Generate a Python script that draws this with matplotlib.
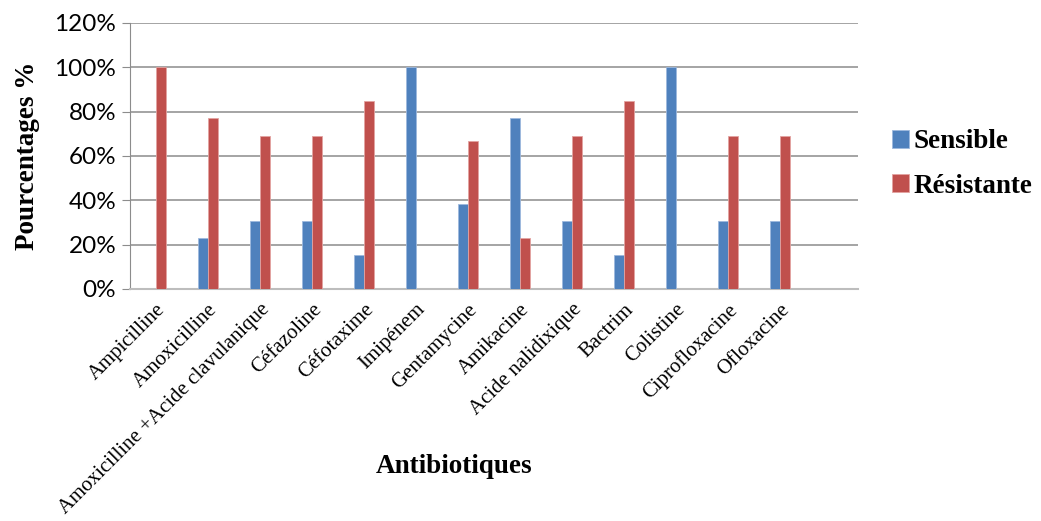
import numpy as np
import matplotlib.pyplot as plt
from matplotlib.ticker import PercentFormatter

antibiotiques = ["Ampicilline", "Amoxicilline", "Amoxicilline +Acide clavulanique",
                 "Céfazoline", "Céfotaxime", "Imipénem", "Gentamycine", "Amikacine",
                 "Acide nalidixique", "Bactrim", "Colistine", "Ciprofloxacine",
                 "Ofloxacine", ""]
sensible = [0, 23.08, 30.77, 30.77, 15.38, 100, 38.46, 76.92, 30.77, 15.38, 100, 30.77, 30.77, 0]
resistante = [100, 76.92, 69.23, 69.23, 84.62, 0, 66.67, 23.08, 69.23, 84.62, 0, 69.23, 69.23, 0]

serif = "Liberation Serif"
sans = "Lato"

fig = plt.figure(figsize=(10.41, 5.21), dpi=100)
ax = fig.add_axes([0.1249, 0.4453, 0.6993, 0.5106])

x = np.arange(len(antibiotiques))
w = 0.2
ax.bar(x - w / 2, sensible, w, color="#4F81BD", edgecolor="#9DB9DE", linewidth=0.6,
       label="Sensible", zorder=3)
ax.bar(x + w / 2, resistante, w, color="#C0504D", edgecolor="#E3A3A1", linewidth=0.6,
       label="Résistante", zorder=3)

ax.set_xlim(-0.5, len(antibiotiques) - 0.5)
ax.set_ylim(0, 120)
ax.set_yticks(np.arange(0, 121, 20))
ax.yaxis.set_major_formatter(PercentFormatter(decimals=0))
ax.grid(axis="y", color="#8C8C8C", linewidth=1.1, zorder=0)

for side in ["top", "right"]:
    ax.spines[side].set_visible(False)
ax.spines["left"].set_color("#8C8C8C")
ax.spines["bottom"].set_color("#BDBDBD")
ax.spines["bottom"].set_linewidth(1.5)

ax.tick_params(axis="y", length=6, color="#8C8C8C", labelsize=17.5, pad=4)
for t in ax.get_yticklabels():
    t.set_family(sans)
ax.tick_params(axis="x", length=0, pad=8)
ax.set_xticks(x)
ax.set_xticklabels(antibiotiques, rotation=45, ha="right", va="top",
                   rotation_mode="anchor", family=serif, fontsize=15)

ax.set_ylabel("Pourcentages %", family=serif, fontweight="bold", fontsize=19.5, labelpad=10)
ax.set_xlabel("Antibiotiques", family=serif, fontweight="bold", fontsize=19.5)
ax.xaxis.set_label_coords(0.445, -0.62)

ax.legend(loc="center left", bbox_to_anchor=(1.013, 0.47), frameon=False,
          prop={"family": serif, "weight": "bold", "size": 19.5},
          handlelength=0.65, handleheight=0.65, handletextpad=0.15, labelspacing=0.72)

fig.savefig("out.png", dpi=100)
